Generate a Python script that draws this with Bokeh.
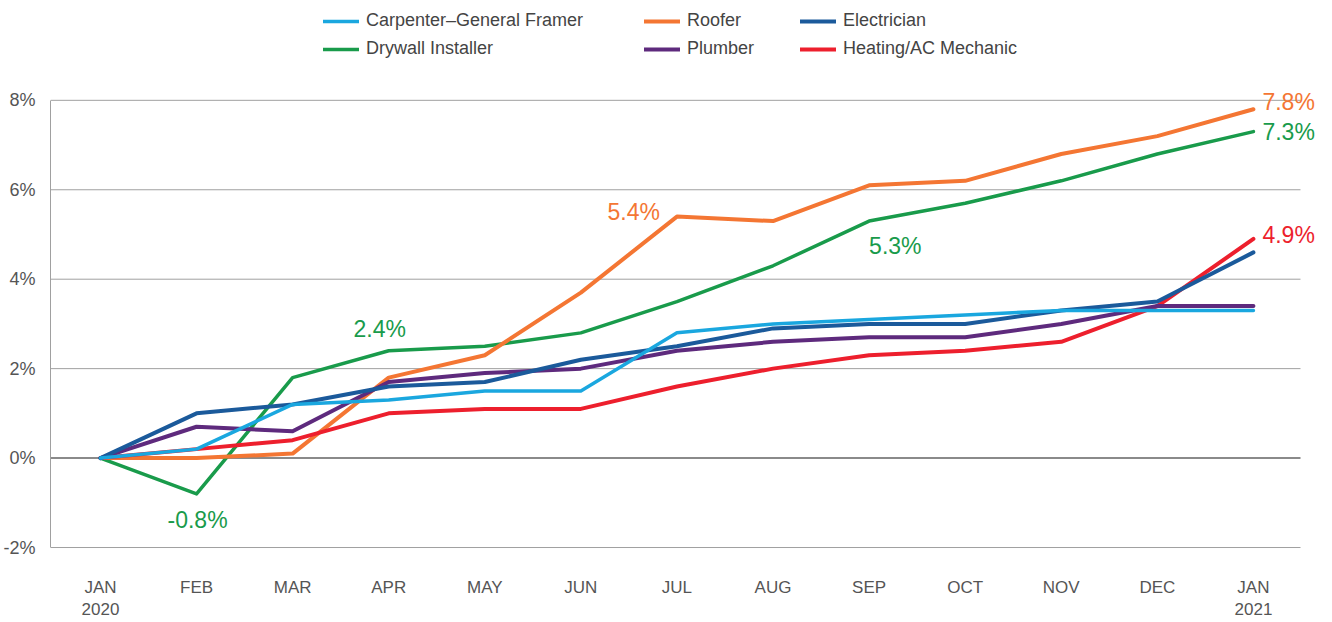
from bokeh.plotting import figure
from bokeh.models import ColumnDataSource, Legend, LegendItem, FixedTicker, Range1d
from bokeh.core.properties import value
from bokeh.embed import file_html
from bokeh.resources import INLINE

months = ["JAN\n2020", "FEB", "MAR", "APR", "MAY", "JUN", "JUL", "AUG",
          "SEP", "OCT", "NOV", "DEC", "JAN\n2021"]
x_idx = list(range(len(months)))

carpenter = [0.0, 0.2, 1.2, 1.3, 1.5, 1.5, 2.8, 3.0, 3.1, 3.2, 3.3, 3.3, 3.3]
roofer = [0.0, 0.0, 0.1, 1.8, 2.3, 3.7, 5.4, 5.3, 6.1, 6.2, 6.8, 7.2, 7.8]
electrician = [0.0, 1.0, 1.2, 1.6, 1.7, 2.2, 2.5, 2.9, 3.0, 3.0, 3.3, 3.5, 4.6]
drywall = [0.0, -0.8, 1.8, 2.4, 2.5, 2.8, 3.5, 4.3, 5.3, 5.7, 6.2, 6.8, 7.3]
plumber = [0.0, 0.7, 0.6, 1.7, 1.9, 2.0, 2.4, 2.6, 2.7, 2.7, 3.0, 3.4, 3.4]
heating = [0.0, 0.2, 0.4, 1.0, 1.1, 1.1, 1.6, 2.0, 2.3, 2.4, 2.6, 3.4, 4.9]

y_ticks = [-2, 0, 2, 4, 6, 8]
y_tick_labels = ["-2%", "0%", "2%", "4%", "6%", "8%"]

# annotations: text, month index, value, colour key
ann_text = ["-0.8%", "2.4%", "5.4%", "5.3%", "7.8%", "7.3%", "4.9%"]
ann_x = [1, 3, 6, 8, 12, 12, 12]
ann_y = [-0.8, 2.4, 5.4, 5.3, 7.8, 7.3, 4.9]
ann_series = ["drywall", "drywall", "roofer", "drywall", "roofer", "drywall", "heating"]

colors = {
    "carpenter": "#1aa7df",
    "roofer": "#f47633",
    "electrician": "#1b5a9b",
    "drywall": "#199b4b",
    "plumber": "#5e2a7d",
    "heating": "#ed1f2d",
}
FONT = "Liberation Sans"

# plot area: x range spans the grid (-0.52 .. 12.49) plus room on the right for end labels
X_START, GRID_END, X_END = -0.52, 12.49, 12.823
Y_START, Y_END = -2.022, 10.232

p = figure(width=1332, height=622, output_backend="svg", toolbar_location=None,
           x_range=Range1d(X_START, X_END), y_range=Range1d(Y_START, Y_END),
           min_border_left=50, min_border_right=0, min_border_top=0,
           min_border_bottom=74)
p.outline_line_color = None
p.xgrid.grid_line_color = None
p.ygrid.grid_line_color = None

# horizontal grid lines limited to the chart area
grid_src = ColumnDataSource(dict(
    x0=[X_START] * len(y_ticks), x1=[GRID_END] * len(y_ticks), y=y_ticks,
    c=["#8a8a8a" if t == 0 else "#a0a0a0" for t in y_ticks],
    w=[2 if t == 0 else 1 for t in y_ticks]))
p.segment(x0="x0", x1="x1", y0="y", y1="y", source=grid_src,
          line_color="c", line_width="w")

p.yaxis.ticker = FixedTicker(ticks=y_ticks)
p.yaxis.bounds = (y_ticks[0], y_ticks[-1])
p.yaxis.major_label_overrides = {t: l for t, l in zip(y_ticks, y_tick_labels)}
p.yaxis.axis_line_color = "#a0a0a0"
p.yaxis.major_tick_line_color = None
p.yaxis.minor_tick_line_color = None
p.yaxis.major_label_text_font = FONT
p.yaxis.major_label_text_font_size = "18px"
p.yaxis.major_label_text_color = "#555555"
p.yaxis.major_label_standoff = 9

p.xaxis.ticker = FixedTicker(ticks=x_idx)
p.xaxis.major_label_overrides = {i: m for i, m in zip(x_idx, months)}
p.xaxis.axis_line_color = None
p.xaxis.major_tick_line_color = None
p.xaxis.minor_tick_line_color = None
p.xaxis.major_label_text_font = FONT
p.xaxis.major_label_text_font_size = "17px"
p.xaxis.major_label_text_color = "#555555"
p.xaxis.major_label_standoff = 23

series = [
    ("drywall", "Drywall Installer", drywall, 3.5),
    ("roofer", "Roofer", roofer, 4),
    ("heating", "Heating/AC Mechanic", heating, 4),
    ("plumber", "Plumber", plumber, 4),
    ("electrician", "Electrician", electrician, 4),
    ("carpenter", "Carpenter\u2013General Framer", carpenter, 3.5),
]
renderers = {}
for key, name, vals, lw in series:
    src = ColumnDataSource(dict(x=x_idx, y=vals))
    renderers[key] = (name, p.line("x", "y", source=src, line_color=colors[key],
                                   line_width=lw, line_join="round", line_cap="round"))

# legend: 2 rows x 3 columns, each item its own legend positioned in screen units
legend_grid = [
    ("carpenter", 273, 517), ("roofer", 594, 517), ("electrician", 750, 517),
    ("drywall", 273, 489), ("plumber", 594, 489), ("heating", 750, 489),
]
for key, lx, ly in legend_grid:
    name, r = renderers[key]
    lg = Legend(items=[LegendItem(label=name, renderers=[r])], location=(lx, ly),
                border_line_color=None, background_fill_alpha=0, padding=0, margin=0,
                spacing=0, label_text_font=FONT, label_text_font_size="18px",
                label_text_color="#444444", glyph_width=36, glyph_height=20,
                label_height=20, label_standoff=7)
    p.add_layout(lg, "center")

ann_style = [
    dict(align="center", baseline="top", dx=1, dy=13),
    dict(align="center", baseline="bottom", dx=-9, dy=-9),
    dict(align="right", baseline="middle", dx=-17, dy=-5),
    dict(align="left", baseline="top", dx=0, dy=12),
    dict(align="left", baseline="middle", dx=9, dy=-7),
    dict(align="left", baseline="middle", dx=9, dy=0),
    dict(align="left", baseline="middle", dx=9, dy=-4),
]
for t, ax, ay, s, st in zip(ann_text, ann_x, ann_y, ann_series, ann_style):
    src = ColumnDataSource(dict(x=[ax], y=[ay], t=[t]))
    p.text("x", "y", text="t", source=src, text_color=colors[s],
           text_font=value(FONT), text_font_size="23px",
           text_align=st["align"], text_baseline=st["baseline"],
           x_offset=st["dx"], y_offset=st["dy"])

open("out.html", "w").write(file_html(p, INLINE))
